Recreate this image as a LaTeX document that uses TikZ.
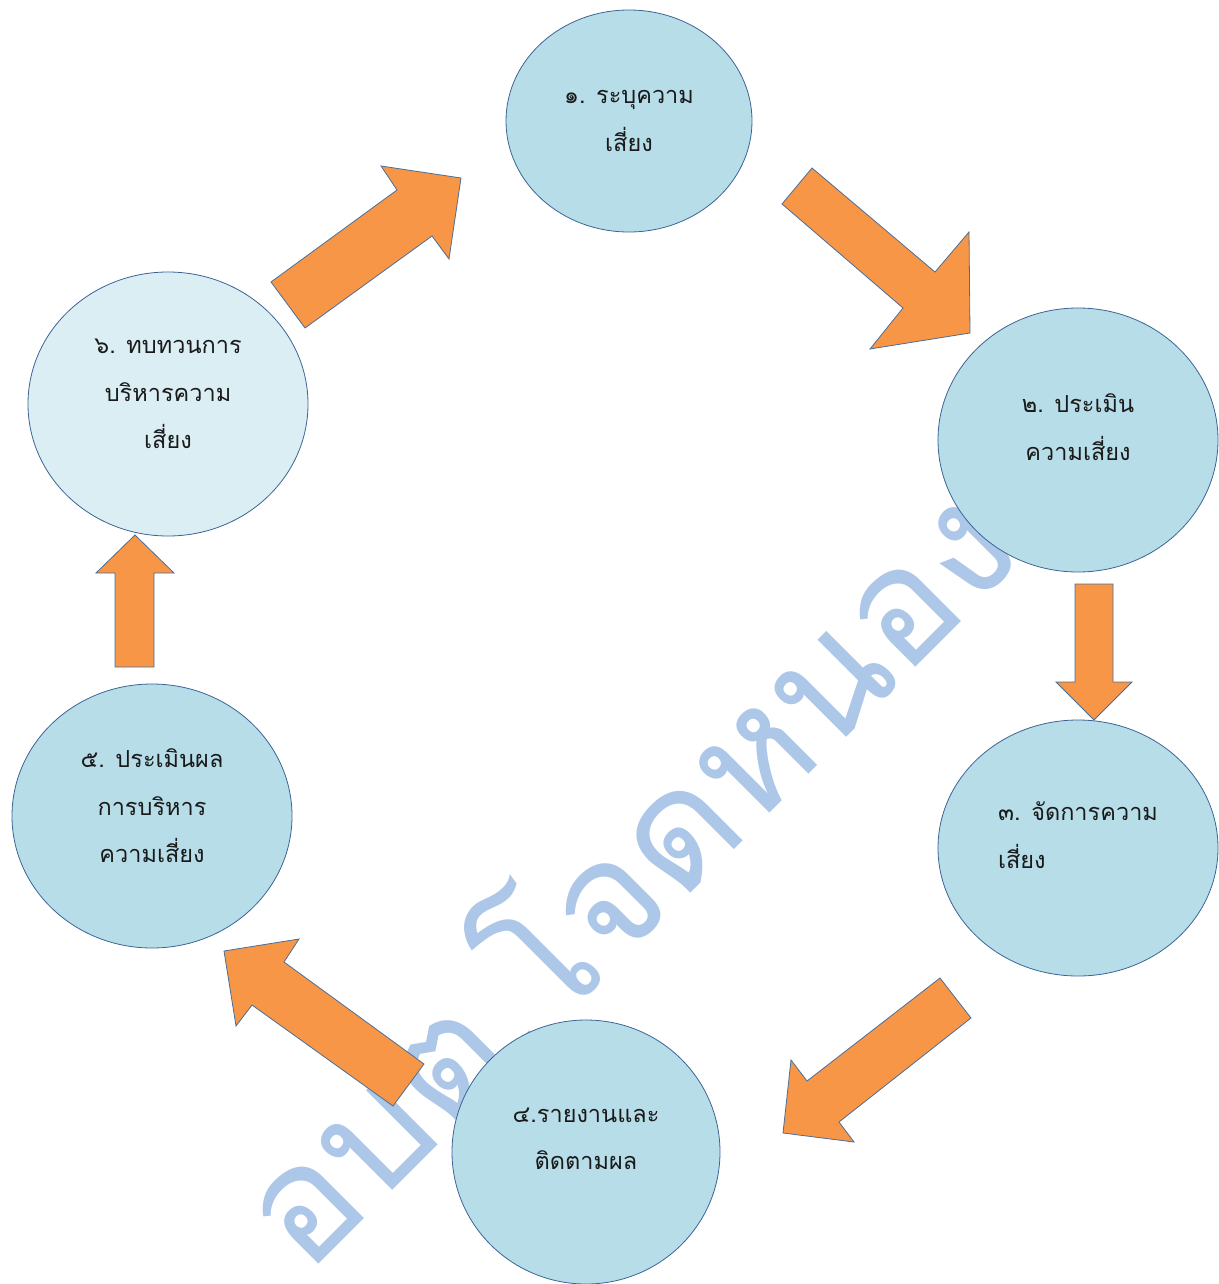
\documentclass[tikz,border=0pt]{standalone}
\usepackage{fontspec}
\newfontfamily\thaifont[Script=Thai]{Loma}
\usetikzlibrary{shapes.geometric}
\definecolor{cfill}{HTML}{B7DDE8}
\definecolor{cfilllight}{HTML}{DAEEF3}
\definecolor{cline}{HTML}{3C6496}
\definecolor{afill}{HTML}{F79646}
\definecolor{aline}{HTML}{4A6E9A}
\definecolor{wm}{HTML}{ADC7E8}
\definecolor{txt}{HTML}{1A1A1A}
\begin{document}
\begin{tikzpicture}[x=1pt,y=-1pt,
  circ/.style={ellipse, draw=cline, line width=0.8pt, fill=cfill, inner sep=0pt, outer sep=0pt},
  lbl/.style={font=\thaifont\fontsize{23.5}{47.5}\selectfont, text=txt, align=center, inner sep=0pt},
  blockarrow/.style={fill=afill, draw=aline, line width=0.8pt, line join=miter}]
\useasboundingbox (0,0) rectangle (1218,1284);
% watermark
\node[font=\thaifont\fontsize{160}{165}\selectfont, text=wm, rotate=45, inner sep=0pt] (wmk) at (616,866) {อบต.โจดหนอง};
% circles
\node[circ, minimum width=246pt, minimum height=222pt] (c1) at (629,121) {};
\node[circ, minimum width=280pt, minimum height=264pt] (c2) at (1078,440) {};
\node[circ, minimum width=280pt, minimum height=256pt] (c3) at (1078,848) {};
\node[circ, minimum width=268pt, minimum height=264pt] (c4) at (586,1152) {};
\node[circ, minimum width=280pt, minimum height=264pt] (c5) at (152,816) {};
\node[circ, fill=cfilllight, minimum width=280pt, minimum height=264pt] (c6) at (168,404) {};
% texts
\node[lbl] (t1) at (629,121) {๑. ระบุความ\\เสี่ยง};
\node[lbl] (t2) at (1078,427) {๒. ประเมิน\\ความเสี่ยง};
\node[lbl, align=left] (t3) at (1078,835) {๓. จัดการความ\\เสี่ยง};
\node[lbl] (t4) at (586,1139) {๔.รายงานและ\\ติดตามผล};
\node[lbl] (t5) at (152,806) {๕. ประเมินผล\\การบริหาร\\ความเสี่ยง};
\node[lbl] (t6) at (168,394) {๖. ทบทวนการ\\บริหารความ\\เสี่ยง};
% block arrows
\draw[blockarrow] (271,282) -- (397,190) -- (381,166) -- (461,178) -- (449,259) -- (432,236) -- (305,328) -- cycle;
\draw[blockarrow] (812,168) -- (935,272) -- (969,232) -- (970,333) -- (870,349) -- (903,308) -- (782,204) -- cycle;
\draw[blockarrow] (1075,584) -- (1113,584) -- (1113,682) -- (1132,682) -- (1094,720) -- (1056,682) -- (1075,682) -- cycle;
\draw[blockarrow] (940,978) -- (971,1018) -- (839,1122) -- (854,1142) -- (783,1133) -- (791,1060) -- (807,1081) -- cycle;
\draw[blockarrow] (424,1064) -- (393,1106) -- (252,1005) -- (236,1026) -- (224,951) -- (299,939) -- (284,962) -- cycle;
\draw[blockarrow] (115,667) -- (154,667) -- (154,573) -- (174,573) -- (135,535) -- (96,573) -- (115,573) -- cycle;
\end{tikzpicture}
\end{document}
